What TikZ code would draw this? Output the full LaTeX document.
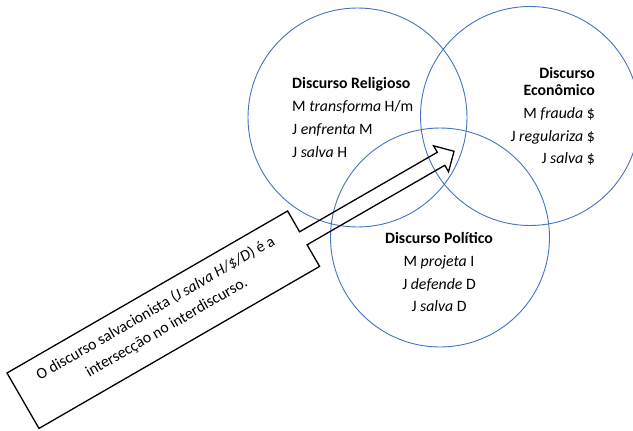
\documentclass[tikz,border=0pt]{standalone}
\usepackage{fontspec}
\setmainfont{Carlito}
\definecolor{venn}{HTML}{4472C4}
\begin{document}
\begin{tikzpicture}[x=1pt,y=-1pt,
  vcircle/.style={circle,draw=venn,line width=0.9pt,minimum size=219pt,inner sep=0pt},
  txt/.style={font=\fontsize{15.8}{18}\selectfont,inner sep=0pt},
  callout/.style={draw=black,line width=1.3pt,line join=miter}]
\useasboundingbox (0,0) rectangle (633,431);
\begin{scope}
\clip (0,0) rectangle (633,431);
\node[vcircle] (rel) at (357.5,117.5) {};
\node[vcircle] (eco) at (530,116) {};
\node[vcircle] (pol) at (440,237.5) {};
\end{scope}
% Religioso
\node[txt,anchor=base west] (r1) at (292,88.3) {\textbf{Discurso Religioso}};
\node[txt,anchor=base west] (r2) at (292,111.7) {M \textit{transforma} H/m};
\node[txt,anchor=base west] (r3) at (292,134.5) {J \textit{enfrenta} M};
\node[txt,anchor=base west] (r4) at (292,157.7) {J \textit{salva} H};
% Economico
\node[txt,anchor=base east] (e1) at (595,78.3) {\textbf{Discurso}};
\node[txt,anchor=base east] (e2) at (595,95.7) {\textbf{Econômico}};
\node[txt,anchor=base east] (e3) at (595,118.3) {M \textit{frauda} \$};
\node[txt,anchor=base east] (e4) at (595,141) {J \textit{regulariza} \$};
\node[txt,anchor=base east] (e5) at (595,163) {J \textit{salva} \$};
% Politico
\node[txt,anchor=base] (p1) at (439,243.3) {\textbf{Discurso Político}};
\node[txt,anchor=base] (p2) at (439,266.7) {M \textit{projeta} I};
\node[txt,anchor=base] (p3) at (439,289) {J \textit{defende} D};
\node[txt,anchor=base] (p4) at (439,311) {J \textit{salva} D};
% Callout
\begin{scope}[shift={(7,373)},rotate=30]
\draw[callout] (0,0) -- (324,0) -- (324,24) -- (483,24) -- (483,16.5) -- (498,31.5)
  -- (483,46.5) -- (483,39) -- (324,39) -- (324,64) -- (0,64) -- cycle;
\node[txt,rotate=30,align=center,font=\fontsize{15.8}{22}\selectfont] (ct) at (161,29.5)
  {O discurso salvacionista (\textit{J salva H/\$/D}) é a\\intersecção no interdiscurso.};
\end{scope}
\end{tikzpicture}
\end{document}
